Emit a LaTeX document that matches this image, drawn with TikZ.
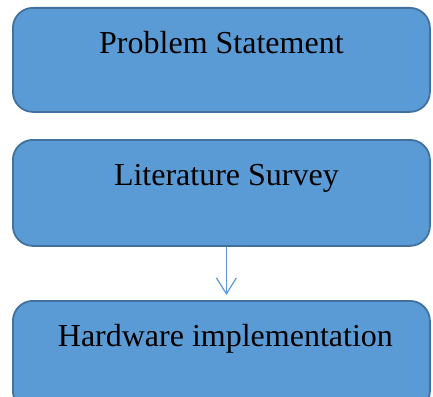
\documentclass[tikz,border=0pt]{standalone}
\usepackage{fontspec}
\setmainfont{Liberation Serif}
\usetikzlibrary{arrows.meta}
\definecolor{boxfill}{HTML}{5B9BD5}
\definecolor{boxline}{HTML}{41719C}
\begin{document}
\begin{tikzpicture}[x=1pt,y=-1pt,
  stepbox/.style={draw=boxline,fill=boxfill,line width=1.8pt,rounded corners=20pt,
    minimum width=417pt,inner sep=0pt,anchor=north west},
  boxtext/.style={font=\fontsize{32}{36}\selectfont,text=black,inner sep=0pt,anchor=center},
  flow/.style={draw=boxfill,line width=1.2pt,-{Straight Barb[length=16pt,width=20pt,line width=1.2pt]},shorten >=5pt}]
\useasboundingbox (0,0) rectangle (433,396);
\node[stepbox,minimum height=104pt] (b1) at (12,7) {};
\node[stepbox,minimum height=106pt] (b2) at (12,139) {};
\node[stepbox,minimum height=110pt] (b3) at (12,300) {};
\node[boxtext] (t1) at ([yshift=-36pt]b1.north) {Problem Statement};
\node[boxtext] (t2) at ([xshift=5pt,yshift=-39pt]b2.north) {Literature Survey};
\node[boxtext] (t3) at ([xshift=4pt,yshift=-39pt]b3.north) {Hardware implementation};
\draw[flow] ([xshift=5pt]b2.south) -- ([xshift=5pt]b3.north);
\end{tikzpicture}
\end{document}
